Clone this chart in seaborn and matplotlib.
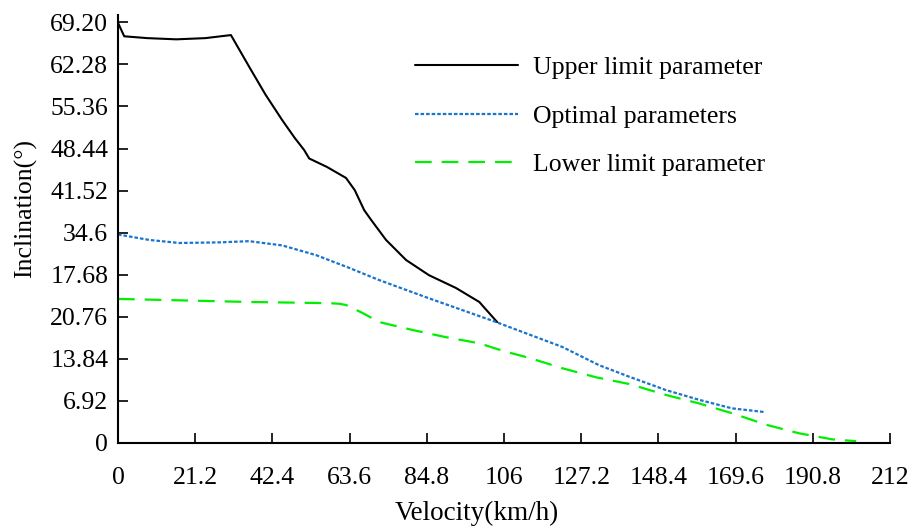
import matplotlib
matplotlib.use("Agg")
import matplotlib.pyplot as plt
import seaborn as sns
import pandas as pd

# ---- data ----
upper_x = [0.0, 1.7, 8.0, 16.0, 24.0, 31.0, 36.0, 40.5, 45.1, 48.5, 51.1, 52.5,
           57.4, 62.6, 65.0, 67.6, 69.5, 73.6, 79.1, 85.4, 92.8, 99.2, 104.1]
upper_y = [69.1, 66.9, 66.6, 66.4, 66.6, 67.1, 61.9, 57.3, 53.1, 50.2, 48.2, 46.8,
           45.4, 43.6, 41.6, 38.3, 36.7, 33.4, 30.1, 27.6, 25.5, 23.2, 19.9]

optimal_x = [0.0, 8.6, 16.8, 27.8, 36.0, 45.1, 54.4, 63.5, 71.7, 85.4, 103.8,
             122.0, 132.1, 140.4, 150.5, 159.6, 168.6, 177.4]
optimal_y = [34.3, 33.4, 32.9, 33.0, 33.2, 32.5, 30.9, 28.8, 26.8, 23.8, 19.9,
             15.8, 12.8, 10.9, 8.7, 7.1, 5.7, 5.1]

lower_x = [0.0, 36.0, 58.0, 60.8, 62.6, 67.1, 71.7, 80.8, 90.1, 99.2, 106.0,
           112.9, 122.0, 131.3, 140.4, 150.5, 159.6, 168.6, 178.0, 187.0, 196.1, 202.7]
lower_y = [23.7, 23.2, 23.0, 22.9, 22.7, 21.4, 19.9, 18.6, 17.4, 16.4, 15.1,
           14.0, 12.3, 10.8, 9.7, 7.9, 6.5, 4.9, 3.0, 1.6, 0.6, 0.3]

series_names = ["Upper limit parameter", "Optimal parameters", "Lower limit parameter"]

x_ticks = [0, 21.2, 42.4, 63.6, 84.8, 106, 127.2, 148.4, 169.6, 190.8, 212]
x_tick_labels = ["0", "21.2", "42.4", "63.6", "84.8", "106", "127.2", "148.4",
                 "169.6", "190.8", "212"]
y_ticks = [0, 6.92, 13.84, 20.76, 27.68, 34.6, 41.52, 48.44, 55.36, 62.28, 69.2]
y_tick_labels = ["0", "6.92", "13.84", "20.76", "17.68", "34.6", "41.52", "48.44",
                 "55.36", "62.28", "69.20"]

# ---- style ----
sns.set_style("ticks")
plt.rcParams["font.family"] = ["Liberation Serif", "DejaVu Serif"]
plt.rcParams["text.color"] = "black"
plt.rcParams["axes.labelcolor"] = "black"

fig = plt.figure(figsize=(9.15, 5.27), dpi=100)
ax = fig.add_axes([0.129, 0.1594, 0.8437, 0.8121])

df_u = pd.DataFrame({"x": upper_x, "y": upper_y})
df_o = pd.DataFrame({"x": optimal_x, "y": optimal_y})
df_l = pd.DataFrame({"x": lower_x, "y": lower_y})

sns.lineplot(data=df_u, x="x", y="y", ax=ax, sort=False, color="black",
             linewidth=1.5, label=series_names[0])
sns.lineplot(data=df_o, x="x", y="y", ax=ax, sort=False, color="#1874CD",
             linewidth=1.6, linestyle=(0, (1.6, 0.9)), label=series_names[1])
sns.lineplot(data=df_l, x="x", y="y", ax=ax, sort=False, color="#00EE00",
             linewidth=1.6, linestyle=(0, (7.5, 4.5)), label=series_names[2])

ax.set_xlim(0, 212)
ax.set_ylim(0, 70.4)
ax.set_xticks(x_ticks)
ax.set_xticklabels(x_tick_labels)
ax.set_yticks(y_ticks)
ax.set_yticklabels(y_tick_labels)

for side in ["top", "right"]:
    ax.spines[side].set_visible(False)
for side in ["left", "bottom"]:
    ax.spines[side].set_linewidth(1.5)
    ax.spines[side].set_color("black")

ax.tick_params(axis="both", direction="in", length=7, width=1.2, colors="black",
               labelsize=18.5)
ax.tick_params(axis="x", pad=17)
ax.tick_params(axis="y", pad=7)

ax.set_xlabel("Velocity(km/h)", fontsize=19.5)
ax.set_ylabel("Inclination(°)", fontsize=18.5)
ax.xaxis.set_label_coords(0.465, -0.135)
ax.yaxis.set_label_coords(-0.105, 0.549)

leg = ax.legend(loc="upper left", bbox_to_anchor=(0.4536, 0.893),
                bbox_transform=fig.transFigure, frameon=False, fontsize=18.5,
                handlelength=4.0, handletextpad=0.58, labelspacing=0.98,
                borderpad=0, borderaxespad=0)
for t in leg.get_texts():
    t.set_color("black")

fig.savefig("out.png", dpi=100)
